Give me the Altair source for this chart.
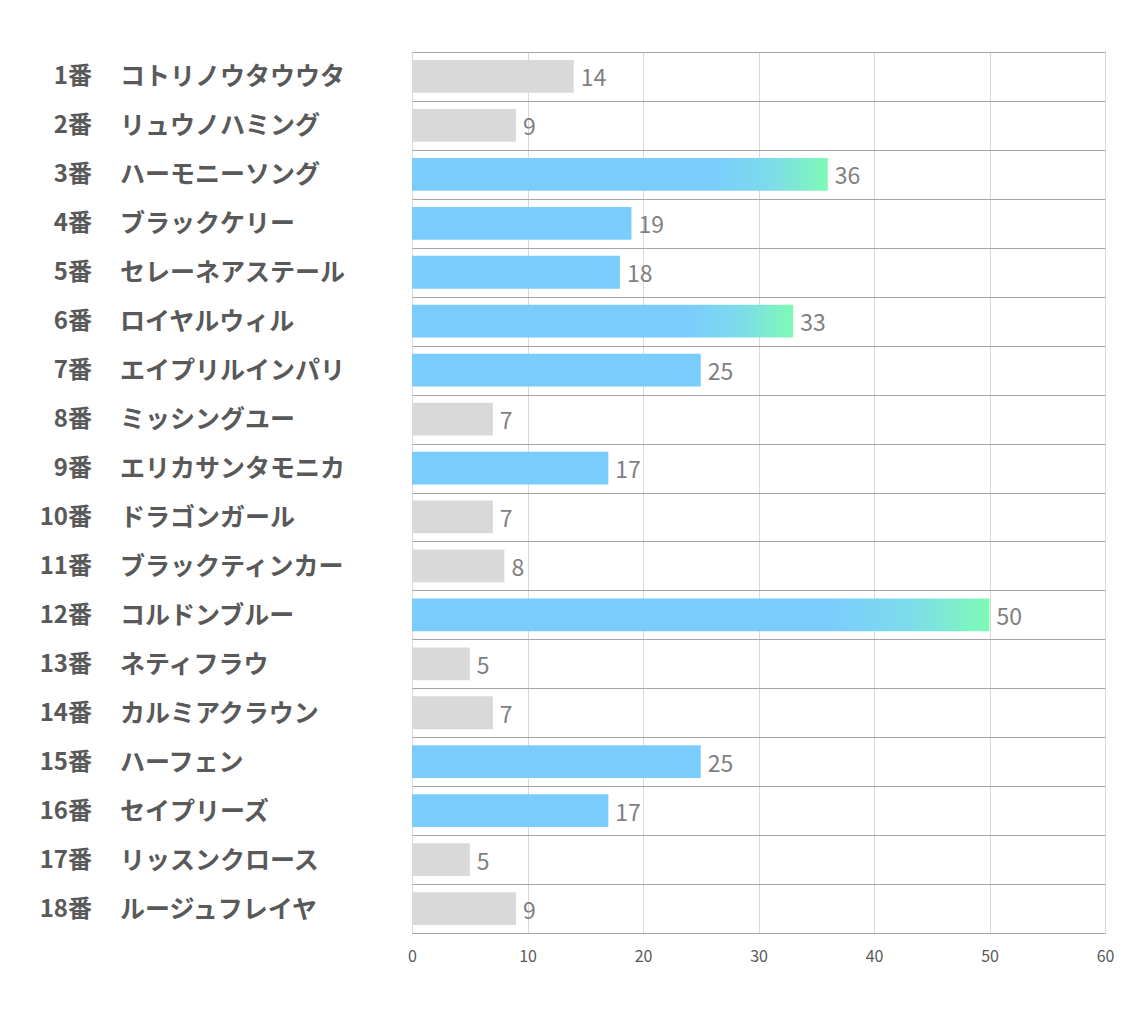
import altair as alt
import pandas as pd

numbers = [f"{i}番" for i in range(1, 19)]
names = ["コトリノウタウウタ", "リュウノハミング", "ハーモニーソング", "ブラックケリー",
         "セレーネアステール", "ロイヤルウィル", "エイプリルインパリ", "ミッシングユー",
         "エリカサンタモニカ", "ドラゴンガール", "ブラックティンカー", "コルドンブルー",
         "ネティフラウ", "カルミアクラウン", "ハーフェン", "セイプリーズ",
         "リッスンクロース", "ルージュフレイヤ"]
values = [14, 9, 36, 19, 18, 33, 25, 7, 17, 7, 8, 50, 5, 7, 25, 17, 5, 9]
x_ticks = [0, 10, 20, 30, 40, 50, 60]

df = pd.DataFrame({"num": numbers, "name": names, "value": values})

FONT = "Noto Sans CJK JP"
order = numbers

y_enc = alt.Y("num:N", sort=order,
              scale=alt.Scale(paddingInner=0, paddingOuter=0),
              axis=alt.Axis(title=None, labels=False, ticks=False, domain=False,
                            grid=True, gridColor="#a6a6a6", gridWidth=1,
                            tickBand="extent"))
x_enc = alt.X("value:Q", scale=alt.Scale(domain=[0, 60], nice=False),
              axis=alt.Axis(title=None, values=x_ticks, grid=True, gridColor="#d9d9d9",
                            ticks=False, domain=False, labelFontSize=16,
                            labelColor="#595959", labelPadding=15, labelFont=FONT,
                            labelFlush=False, labelFontWeight="normal"))

base = alt.Chart(df)

gray = base.transform_filter("datum.value < 15").mark_bar(
    color="#d9d9d9", height={"band": 0.67}).encode(x=x_enc, y=y_enc)
blue = base.transform_filter("datum.value >= 15 && datum.value < 30").mark_bar(
    color="#7accfd", height={"band": 0.67}).encode(x=x_enc, y=y_enc)
grad = base.transform_filter("datum.value >= 30").mark_bar(
    color=alt.Gradient(gradient="linear", x1=0, x2=1, y1=0, y2=0,
                       stops=[alt.GradientStop(color="#7accfd", offset=0),
                              alt.GradientStop(color="#7accfd", offset=0.72),
                              alt.GradientStop(color="#7ddbec", offset=0.86),
                              alt.GradientStop(color="#7dfbb6", offset=1)]),
    height={"band": 0.67}).encode(x=x_enc, y=y_enc)

vals = base.mark_text(align="left", baseline="middle", dx=7, dy=3, fontSize=23,
                      color="#7f7f7f", font=FONT).encode(
    x=x_enc, y=y_enc, text="value:Q")

num_text = base.mark_text(align="right", baseline="middle", fontSize=24, dy=1,
                          fontWeight="bold", color="#595959", font=FONT).encode(
    x=alt.value(-320), y=y_enc, text="num:N")
name_text = base.mark_text(align="left", baseline="middle", fontSize=25, dy=1,
                           fontWeight="bold", color="#595959", font=FONT).encode(
    x=alt.value(-292), y=y_enc, text="name:N")

chart = alt.layer(gray, blue, grad, vals, num_text, name_text).properties(
    width=693, height=881,
    autosize=alt.AutoSizeParams(type="none"),
    padding={"left": 404, "top": 44, "right": 20, "bottom": 60},
).configure_view(stroke=None).configure(background="white")

chart.save("out.html", embed_options={"renderer": "svg", "actions": False})
